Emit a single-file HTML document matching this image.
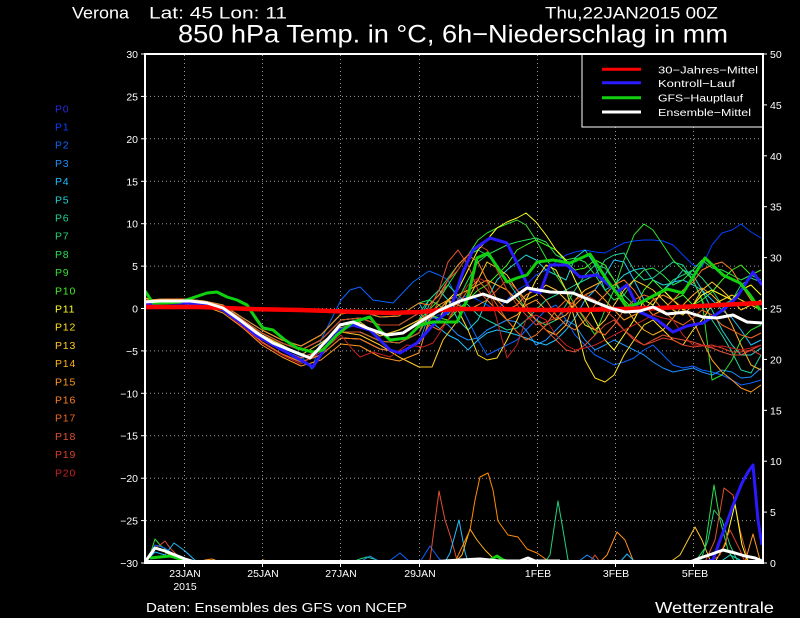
<!DOCTYPE html>
<html><head><meta charset="utf-8"><style>
html,body{margin:0;padding:0;background:#000;}
svg{display:block;fill:#fff;}
text{font-family:"Liberation Sans",sans-serif;}
</style></head><body>
<svg width="800" height="618" viewBox="0 0 800 618" xmlns="http://www.w3.org/2000/svg">
<rect x="0" y="0" width="800" height="618" fill="#000"/>
<defs><clipPath id="pc"><rect x="146" y="55" width="616" height="508"/></clipPath></defs>

<!-- titles -->
<text x="72" y="18.3" font-size="17" textLength="57" lengthAdjust="spacingAndGlyphs">Verona</text>
<text x="149" y="18.3" font-size="17" textLength="138" lengthAdjust="spacingAndGlyphs">Lat: 45 Lon: 11</text>
<text x="545" y="18.3" font-size="17" textLength="173" lengthAdjust="spacingAndGlyphs">Thu,22JAN2015 00Z</text>
<text x="178" y="42.3" font-size="25" textLength="550" lengthAdjust="spacingAndGlyphs">850 hPa Temp. in °C, 6h−Niederschlag in mm</text>

<!-- grid -->
<g stroke="#9a9a9a" stroke-width="1" stroke-dasharray="1 3" fill="none">
<line x1="146" x2="762" y1="96.4" y2="96.4"/>
<line x1="146" x2="762" y1="138.8" y2="138.8"/>
<line x1="146" x2="762" y1="181.3" y2="181.3"/>
<line x1="146" x2="762" y1="223.7" y2="223.7"/>
<line x1="146" x2="762" y1="266.1" y2="266.1"/>
<line x1="146" x2="762" y1="308.5" y2="308.5"/>
<line x1="146" x2="762" y1="350.9" y2="350.9"/>
<line x1="146" x2="762" y1="393.3" y2="393.3"/>
<line x1="146" x2="762" y1="435.7" y2="435.7"/>
<line x1="146" x2="762" y1="478.2" y2="478.2"/>
<line x1="146" x2="762" y1="520.6" y2="520.6"/>
<line x1="184.5" x2="184.5" y1="55" y2="562"/>
<line x1="262.5" x2="262.5" y1="55" y2="562"/>
<line x1="340.5" x2="340.5" y1="55" y2="562"/>
<line x1="419.5" x2="419.5" y1="55" y2="562"/>
<line x1="537.5" x2="537.5" y1="55" y2="562"/>
<line x1="615.5" x2="615.5" y1="55" y2="562"/>
<line x1="693.5" x2="693.5" y1="55" y2="562"/>
</g>

<g clip-path="url(#pc)" fill="none" stroke-linejoin="round">
<!-- thin ensemble members -->
<g stroke-width="1">
<polyline stroke="#0040ff" points="145,301 165,300 184,300 204,302 223,306 243,320 262,333 282,343 301,350 321,340 341,320 360,318 380,325 399,325 419,313 429,320 439,315 448,310 458,300 468,295 478,300 487,305 497,310 507,300 517,290 526,285 536,275 546,270 556,262 566,255 575,252 585,250 595,252 605,253 614,248 624,243 634,241 644,240 653,240 663,241 673,245 683,255 693,265 702,267 712,245 722,233 732,230 741,224 751,232 761,238"/>
<polyline stroke="#0a64ff" points="145,303 165,302 184,302 204,304 223,310 243,325 262,338 282,348 301,356 312,369 321,340 341,300 350,290 360,287 373,300 393,303 413,282 429,271 439,275 448,280 458,300 468,320 478,340 487,355 497,350 507,345 517,340 526,330 536,320 546,310 556,305 566,320 575,335 585,345 595,355 605,360 614,365 624,362 634,358 644,350 653,345 663,355 673,365 683,368 693,366 702,370 712,372 722,375 732,380 741,385 751,383 761,380"/>
<polyline stroke="#1e90ff" points="145,304 165,303 184,303 204,305 223,311 243,326 262,342 282,354 301,362 321,355 341,338 360,339 380,349 399,352 419,343 429,315 439,320 448,325 458,335 468,340 478,338 487,330 497,325 507,320 517,322 526,330 536,345 546,340 556,330 566,320 575,325 585,340 595,350 605,345 614,340 624,345 634,350 644,355 653,362 663,368 673,372 683,370 693,368 702,372 712,375 722,370 732,372 741,378 751,377 761,368"/>
<polyline stroke="#1ebeff" points="145,300 165,299 184,299 204,301 223,305 243,318 262,330 282,340 301,346 321,335 341,314 360,311 380,317 399,316 419,303 429,320 439,328 448,335 458,340 468,350 478,340 487,333 497,330 507,332 517,335 526,338 536,342 546,345 556,340 566,330 575,318 585,300 595,290 605,275 614,260 624,262 634,280 644,300 653,305 663,290 673,282 683,280 693,285 702,290 712,300 722,310 732,318 741,330 751,345 761,340"/>
<polyline stroke="#20d2d2" points="145,298 165,303 184,300 204,302 223,309 243,321 262,335 282,345 301,355 321,343 341,328 360,322 380,336 399,330 419,320 429,300 439,290 448,300 458,320 468,330 478,320 487,300 497,280 507,270 517,262 526,255 536,260 546,270 556,275 566,280 575,258 585,250 595,265 605,290 614,285 624,275 634,270 644,268 653,280 663,285 673,283 683,270 693,275 702,290 712,310 722,330 732,345 741,355 751,355 761,348"/>
<polyline stroke="#20d29a" points="145,303 165,302 184,302 204,304 223,310 243,324 262,339 282,350 301,358 321,350 341,332 360,332 380,341 399,343 419,333 429,305 439,295 448,285 458,295 468,305 478,315 487,320 497,325 507,330 517,328 526,320 536,310 546,300 556,295 566,290 575,285 585,280 595,275 605,260 614,255 624,253 634,270 644,280 653,278 663,270 673,262 683,265 693,280 702,300 712,320 722,335 732,352 741,370 751,373 761,355"/>
<polyline stroke="#20d278" points="145,301 165,300 184,300 204,302 223,306 243,320 262,333 282,343 301,350 321,340 341,320 360,318 380,325 399,325 419,313 429,300 439,290 448,278 458,265 468,255 478,250 487,255 497,265 507,280 517,295 526,310 536,320 546,325 556,320 566,305 575,290 585,275 595,265 605,268 614,280 624,295 634,305 644,300 653,295 663,290 673,280 683,275 693,270 702,278 712,290 722,305 732,300 741,285 751,278 761,282"/>
<polyline stroke="#28e050" points="145,300 165,299 184,299 204,301 223,305 243,318 262,330 282,340 301,346 321,335 341,314 360,311 380,317 399,316 419,303 429,300 439,305 448,315 458,300 468,280 478,262 487,255 497,250 507,245 517,242 526,240 536,238 546,242 556,255 566,260 575,258 585,262 595,275 605,290 614,300 624,295 634,280 644,270 653,268 663,275 673,285 683,280 693,270 702,260 712,268 722,270 732,275 741,280 751,275 761,280"/>
<polyline stroke="#30e030" points="145,298 165,303 184,300 204,302 223,309 243,321 262,335 282,345 301,355 321,343 341,328 360,322 380,336 399,330 419,320 429,310 439,300 448,285 458,270 468,255 478,240 487,233 497,228 507,224 517,220 526,225 536,240 546,258 556,275 566,290 575,305 585,320 595,335 605,310 614,290 624,260 634,235 644,224 653,230 663,245 673,260 683,270 693,280 702,300 712,380 722,375 732,360 741,340 751,330 761,325"/>
<polyline stroke="#40f020" points="145,303 165,302 184,302 204,304 223,310 243,324 262,339 282,350 301,358 321,350 341,332 360,332 380,341 399,343 419,333 429,315 439,318 448,320 458,310 468,300 478,290 487,285 497,275 507,265 517,250 526,245 536,240 546,245 556,250 566,262 575,270 585,268 595,260 605,265 614,280 624,300 634,310 644,290 653,280 663,290 673,300 683,295 693,305 702,300 712,292 722,280 732,270 741,265 751,275 761,270"/>
<polyline stroke="#ffff20" points="145,301 165,300 184,300 204,302 223,306 243,320 262,333 282,343 301,350 321,340 341,320 360,318 380,325 399,325 419,313 429,320 439,310 448,300 458,290 468,270 478,250 487,240 497,228 507,222 517,218 526,213 536,222 546,235 556,250 566,260 575,280 585,300 595,320 605,340 614,350 624,335 634,320 644,300 653,305 663,290 673,300 683,310 693,305 702,295 712,290 722,295 732,300 741,290 751,285 761,295"/>
<polyline stroke="#ffe020" points="145,304 165,303 184,303 204,305 223,311 243,326 262,342 282,354 301,362 321,355 341,338 360,339 380,349 399,352 419,343 429,330 439,320 448,300 458,310 468,330 478,355 487,360 497,358 507,340 517,320 526,300 536,280 546,265 556,270 566,290 575,320 585,360 595,378 605,382 614,375 624,355 634,340 644,325 653,320 663,330 673,340 683,345 693,330 702,320 712,305 722,300 732,295 741,300 751,305 761,310"/>
<polyline stroke="#ffc828" points="145,303 165,302 184,302 204,304 223,310 243,324 262,339 282,350 301,358 321,350 341,332 360,335 380,345 399,357 419,367 432,367 443,340 458,320 468,300 478,280 487,262 497,268 507,275 517,290 526,300 536,295 546,285 556,290 566,300 575,310 585,325 595,330 605,320 614,305 624,290 634,280 644,285 653,290 663,300 673,310 683,315 693,305 702,290 712,282 722,290 732,300 741,310 751,305 761,300"/>
<polyline stroke="#ffb020" points="145,298 165,303 184,300 204,302 223,309 243,321 262,335 282,345 301,355 321,343 341,328 360,322 380,336 399,330 419,320 429,315 439,305 448,300 458,295 468,290 478,285 487,280 497,285 507,290 517,300 526,310 536,320 546,330 556,335 566,325 575,300 585,290 595,285 605,280 614,290 624,305 634,320 644,330 653,335 663,330 673,318 683,305 693,295 702,288 712,295 722,305 732,325 741,345 751,365 761,370"/>
<polyline stroke="#ff9820" points="145,305 165,303 184,304 204,306 223,313 243,328 262,345 282,357 301,366 321,360 341,344 360,346 380,357 399,361 419,353 429,320 439,310 448,300 458,305 468,310 478,305 487,300 497,310 507,320 517,315 526,305 536,300 546,310 556,320 566,315 575,305 585,295 595,290 605,300 614,310 624,320 634,315 644,310 653,300 663,295 673,300 683,308 693,320 702,340 712,360 722,372 732,380 741,388 751,392 761,385"/>
<polyline stroke="#ff8020" points="145,300 165,299 184,299 204,301 223,305 243,318 262,330 282,340 301,346 321,335 341,314 360,311 380,317 399,316 419,303 429,305 439,295 448,280 458,265 468,255 478,262 487,280 497,300 507,310 517,305 526,295 536,290 546,300 556,315 566,325 575,330 585,320 595,305 605,295 614,285 624,280 634,290 644,305 653,315 663,310 673,300 683,290 693,282 702,270 712,265 722,262 732,270 741,285 751,300 761,310"/>
<polyline stroke="#f06820" points="145,304 165,303 184,303 204,305 223,311 243,326 262,342 282,354 301,362 321,355 341,338 360,339 380,349 399,352 419,343 429,325 439,330 448,320 458,305 468,290 478,280 487,290 497,305 507,320 517,332 526,340 536,335 546,325 556,310 566,300 575,305 585,318 595,330 605,335 614,325 624,310 634,300 644,295 653,298 663,310 673,320 683,325 693,318 702,310 712,315 722,325 732,330 741,335 751,338 761,333"/>
<polyline stroke="#e05030" points="145,303 165,302 184,302 204,304 223,310 243,324 262,339 282,350 301,358 321,350 341,332 360,332 380,341 399,343 419,333 429,310 439,290 448,262 458,250 468,265 478,290 487,300 497,290 507,280 517,290 526,305 536,320 546,330 556,340 566,350 575,352 585,345 595,335 605,325 614,320 624,330 634,340 644,345 653,340 663,335 673,338 683,340 693,342 702,345 712,348 722,352 732,355 741,355 751,350 761,345"/>
<polyline stroke="#d84028" points="145,301 165,300 184,300 204,302 223,306 243,320 262,333 282,343 301,350 321,340 341,320 360,318 380,325 399,325 419,313 429,320 439,300 448,280 458,270 468,255 478,245 487,250 497,270 507,290 517,305 526,315 536,325 546,322 556,318 566,310 575,300 585,295 595,300 605,310 614,318 624,330 634,338 644,345 653,342 663,338 673,340 683,345 693,347 702,346 712,345 722,348 732,352 741,352 751,350 761,355"/>
<polyline stroke="#c82020" points="145,304 165,303 184,303 204,305 223,311 243,327 262,343 282,355 301,364 321,352 341,335 353,350 360,357 373,352 390,357 407,345 423,347 433,343 448,320 458,300 468,285 478,278 487,282 497,320 507,358 517,345 526,320 536,315 546,320 556,335 566,345 575,350 585,348 595,345 605,340 614,335 624,330 634,325 644,320 653,315 663,318 673,320 683,335 693,345 702,345 712,347 722,346 732,348 741,350 751,348 761,345"/>
</g>

<!-- precipitation thin -->
<g stroke-width="1">
<polyline stroke="#30e030" points="145,562 150,555 155,539 160,545 165,549 175,555 185,560 195,562"/>
<polyline stroke="#e05030" points="145,562 152,550 160,545 165,541 170,548 178,556 190,562"/>
<polyline stroke="#0a64ff" points="148,558 155,545 165,548 175,555 185,562"/>
<polyline stroke="#1ebeff" points="145,562 155,552 165,555 174,543 185,551 197,562"/>
<polyline stroke="#ffe020" points="147,560 155,548 165,552 175,558 185,562"/>
<polyline stroke="#ff9820" points="200,562 205,560 212,559 220,562"/>
<polyline stroke="#ffb020" points="258,562 263,560 270,562"/>
<polyline stroke="#20d278" points="352,562 360,559 367,557 374,559 382,562"/>
<polyline stroke="#1e90ff" points="360,562 370,556 380,562"/>
<polyline stroke="#0a64ff" points="388,562 400,553 410,562"/>
<polyline stroke="#0a64ff" points="420,562 430,546 437,556 442,562"/>
<polyline stroke="#e05030" points="425,562 430,560 439,491 445,520 450,535 457,560 462,562"/>
<polyline stroke="#1ebeff" points="445,562 450,553 459,520 465,552 468,562"/>
<polyline stroke="#ffb020" points="455,562 462,555 470,529 477,540 485,550 495,560"/>
<polyline stroke="#ff8c00" points="455,562 463,545 470,530 475,500 480,477 488,473 493,490 498,521 508,535 518,537 527,549 537,553 547,560 552,562"/>
<polyline stroke="#20d080" points="545,562 550,555 558,501 563,530 568,560 572,562"/>
<polyline stroke="#1e90ff" points="578,562 587,555 595,560"/>
<polyline stroke="#e05030" points="590,562 595,555 600,562"/>
<polyline stroke="#ff9020" points="600,562 607,555 617,532 625,540 633,560 640,562"/>
<polyline stroke="#1ebeff" points="620,562 627,554 635,562"/>
<polyline stroke="#ffc828" points="670,562 680,555 688,540 695,527 702,540 710,560 715,562"/>
<polyline stroke="#28e050" points="695,562 705,548 714,485 720,520 728,550 735,562"/>
<polyline stroke="#20d278" points="700,562 708,540 714,510 722,520 730,545 738,562"/>
<polyline stroke="#e05030" points="705,562 715,540 724,488 733,495 740,530 748,560"/>
<polyline stroke="#ffff20" points="715,562 725,545 735,504 742,545 748,562"/>
<polyline stroke="#ff9820" points="745,562 753,534 760,560"/>
<polyline stroke="#d84028" points="710,562 720,555 730,530 740,550 745,562"/>
<polyline stroke="#20d2d2" points="720,562 730,555 740,560"/>
</g>

<!-- thick lines -->
<polyline stroke="#2a1aff" stroke-width="3" points="145,304 165,303 184,303 207,305 223,310 240,322 257,336 273,345 297,358 313,367 327,345 340,330 353,325 370,330 390,350 400,353 417,343 433,325 440,318 450,310 463,272 473,250 490,238 507,243 517,263 530,290 540,293 550,265 567,265 580,277 597,275 617,292 627,285 640,312 657,320 673,332 687,326 703,323 723,310 737,297 753,272 762,285"/>
<polyline stroke="#10d010" stroke-width="3" points="145,291 153,303 165,303 180,302 195,297 207,293 217,292 227,297 237,300 247,305 257,320 263,328 273,330 285,340 297,348 313,352 323,350 337,335 353,322 370,317 380,330 390,340 407,338 420,325 433,322 450,322 457,322 467,300 477,258 488,253 498,268 507,282 517,278 527,275 537,262 553,260 570,263 590,254 607,280 627,307 640,303 653,296 667,289 683,293 705,258 723,275 740,283 750,295 760,310"/>
<polyline stroke="#ff0000" stroke-width="4.5" points="145,307 200,307 250,309 300,310 330,311 360,312 390,313 420,312 440,310 460,309 500,309 540,310 580,310 620,309 660,308 700,306 740,304 763,303"/>
<polyline stroke="#ffffff" stroke-width="3" points="145,302 160,301 173,301 190,301 207,303 223,308 240,320 257,333 273,343 290,350 310,358 327,340 340,325 353,322 367,328 387,335 403,333 423,320 440,310 460,301 483,294 497,299 507,302 527,288 550,292 573,293 590,300 610,308 625,312 640,311 653,307 667,314 687,312 703,317 717,318 733,315 747,322 762,323"/>

<!-- precipitation thick -->
<polyline stroke="#10d010" stroke-width="3" points="150,558 160,557 170,556 180,559 190,562"/>
<polyline stroke="#10d010" stroke-width="3" points="478,562 490,560 497,556 503,560 510,562"/>
<polyline stroke="#2a1aff" stroke-width="3" points="705,562 713,560 720,540 727,522 735,500 742,483 748,472 753,465 758,520 762,545"/>
<polyline stroke="#ffffff" stroke-width="3" points="145,562 150,555 155,548 165,551 175,555 185,559 195,562"/>
<polyline stroke="#ffffff" stroke-width="3" points="690,562 700,558 712,554 723,550 735,553 745,556 755,558 762,561"/>
<polyline stroke="#ffffff" stroke-width="3" points="430,562 460,560 480,559 500,561 520,561 528,558 535,561 560,561"/>
</g>

<!-- baseline (precip zero) -->
<line x1="145" x2="763" y1="561.5" y2="561.5" stroke="#fff" stroke-width="3"/>

<!-- axes -->
<g stroke="#fff" stroke-width="2" fill="none">
<line x1="145" x2="145" y1="53" y2="564"/>
<line x1="763" x2="763" y1="53" y2="564"/>
<line x1="145" x2="763" y1="54" y2="54"/>
<line x1="145" x2="763" y1="563" y2="563"/>
</g>
<g stroke="#fff" stroke-width="1">
<line x1="141" x2="145" y1="54" y2="54"/><line x1="141" x2="145" y1="96.4" y2="96.4"/><line x1="141" x2="145" y1="138.8" y2="138.8"/><line x1="141" x2="145" y1="181.3" y2="181.3"/><line x1="141" x2="145" y1="223.7" y2="223.7"/><line x1="141" x2="145" y1="266.1" y2="266.1"/><line x1="141" x2="145" y1="308.5" y2="308.5"/><line x1="141" x2="145" y1="350.9" y2="350.9"/><line x1="141" x2="145" y1="393.3" y2="393.3"/><line x1="141" x2="145" y1="435.7" y2="435.7"/><line x1="141" x2="145" y1="478.2" y2="478.2"/><line x1="141" x2="145" y1="520.6" y2="520.6"/><line x1="141" x2="145" y1="563" y2="563"/>
<line x1="763" x2="767" y1="54" y2="54"/><line x1="763" x2="767" y1="104.9" y2="104.9"/><line x1="763" x2="767" y1="155.8" y2="155.8"/><line x1="763" x2="767" y1="206.7" y2="206.7"/><line x1="763" x2="767" y1="257.6" y2="257.6"/><line x1="763" x2="767" y1="308.5" y2="308.5"/><line x1="763" x2="767" y1="359.4" y2="359.4"/><line x1="763" x2="767" y1="410.3" y2="410.3"/><line x1="763" x2="767" y1="461.2" y2="461.2"/><line x1="763" x2="767" y1="512.1" y2="512.1"/><line x1="763" x2="767" y1="563" y2="563"/>
<line x1="184.5" x2="184.5" y1="563" y2="567"/><line x1="262.5" x2="262.5" y1="563" y2="567"/><line x1="340.5" x2="340.5" y1="563" y2="567"/><line x1="419.5" x2="419.5" y1="563" y2="567"/><line x1="537.5" x2="537.5" y1="563" y2="567"/><line x1="615.5" x2="615.5" y1="563" y2="567"/><line x1="693.5" x2="693.5" y1="563" y2="567"/>
</g>

<!-- left y labels -->
<g font-size="10.5" text-anchor="end" fill="#fff">
<text x="138" y="58">30</text><text x="138" y="100.4">25</text><text x="138" y="142.8">20</text><text x="138" y="185.3">15</text><text x="138" y="227.7">10</text><text x="138" y="270.1">5</text><text x="138" y="312.5">0</text><text x="138" y="354.9">−5</text><text x="138" y="397.3">−10</text><text x="138" y="439.7">−15</text><text x="138" y="482.2">−20</text><text x="138" y="524.6">−25</text><text x="138" y="567">−30</text>
</g>
<!-- right y labels -->
<g font-size="10.5" fill="#fff">
<text x="770" y="58">50</text><text x="770" y="108.9">45</text><text x="770" y="159.8">40</text><text x="770" y="210.7">35</text><text x="770" y="261.6">30</text><text x="770" y="312.5">25</text><text x="770" y="363.4">20</text><text x="770" y="414.3">15</text><text x="770" y="465.2">10</text><text x="770" y="516.1">5</text><text x="770" y="567">0</text>
</g>
<!-- x labels -->
<g font-size="10.5" text-anchor="middle" fill="#fff">
<text x="185" y="577">23JAN</text><text x="185" y="590">2015</text>
<text x="263" y="577">25JAN</text><text x="341" y="577">27JAN</text><text x="420" y="577">29JAN</text>
<text x="538" y="577">1FEB</text><text x="616" y="577">3FEB</text><text x="695" y="577">5FEB</text>
</g>

<!-- member labels -->
<g font-size="10.5" letter-spacing="0.8">
<text x="55" y="112.3" fill="#2a2ae0">P0</text>
<text x="55" y="130.5" fill="#0a40ff">P1</text>
<text x="55" y="148.7" fill="#1064ff">P2</text>
<text x="55" y="166.9" fill="#1e90ff">P3</text>
<text x="55" y="185.1" fill="#1ebeff">P4</text>
<text x="55" y="203.3" fill="#20d2d2">P5</text>
<text x="55" y="221.5" fill="#20d29a">P6</text>
<text x="55" y="239.7" fill="#20d278">P7</text>
<text x="55" y="257.9" fill="#28e050">P8</text>
<text x="55" y="276.1" fill="#30e030">P9</text>
<text x="55" y="294.3" fill="#40f020">P10</text>
<text x="55" y="312.5" fill="#ffff20">P11</text>
<text x="55" y="330.7" fill="#ffe020">P12</text>
<text x="55" y="348.9" fill="#ffc828">P13</text>
<text x="55" y="367.1" fill="#ffb020">P14</text>
<text x="55" y="385.3" fill="#ff9820">P15</text>
<text x="55" y="403.5" fill="#ff8020">P16</text>
<text x="55" y="421.7" fill="#f06820">P17</text>
<text x="55" y="439.9" fill="#e05030">P18</text>
<text x="55" y="458.1" fill="#d84028">P19</text>
<text x="55" y="476.3" fill="#c82020">P20</text>
</g>

<!-- legend -->
<rect x="582" y="54.5" width="180.5" height="72.5" fill="#000" stroke="#fff" stroke-width="1"/>
<line x1="602" x2="641" y1="69.3" y2="69.3" stroke="#ff0000" stroke-width="3"/>
<line x1="602" x2="641" y1="82.7" y2="82.7" stroke="#2a1aff" stroke-width="3"/>
<line x1="602" x2="641" y1="97.7" y2="97.7" stroke="#10d010" stroke-width="3"/>
<line x1="602" x2="641" y1="112" y2="112" stroke="#ffffff" stroke-width="3"/>
<g fill="#fff">
<text x="658" y="73.3" font-size="10.5" textLength="100" lengthAdjust="spacingAndGlyphs">30−Jahres−Mittel</text>
<text x="658" y="87" font-size="10.5" textLength="77" lengthAdjust="spacingAndGlyphs">Kontroll−Lauf</text>
<text x="658" y="101.7" font-size="10.5" textLength="85" lengthAdjust="spacingAndGlyphs">GFS−Hauptlauf</text>
<text x="658" y="116" font-size="10.5" textLength="93" lengthAdjust="spacingAndGlyphs">Ensemble−Mittel</text>

<!-- footer -->
<text x="146" y="612" font-size="12.5" textLength="261" lengthAdjust="spacingAndGlyphs">Daten: Ensembles des GFS von NCEP</text>
<text x="655" y="613" font-size="15.5" textLength="119" lengthAdjust="spacingAndGlyphs">Wetterzentrale</text>
</g>
</svg>
</body></html>
